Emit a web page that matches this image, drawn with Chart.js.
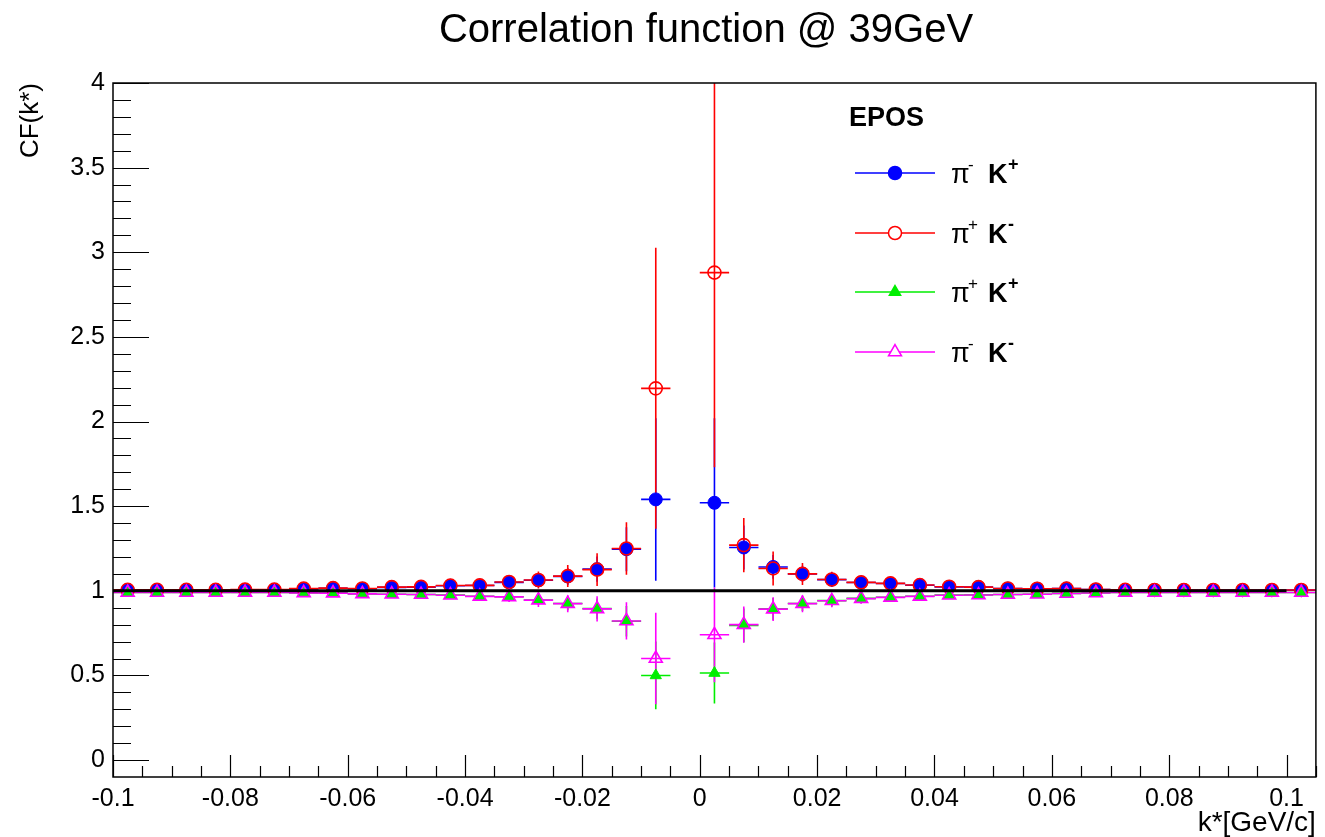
<!DOCTYPE html>
<html>
<head>
<meta charset="utf-8">
<script src="https://cdn.jsdelivr.net/npm/chart.js@4.4.0/dist/chart.umd.min.js"></script>
<style>
  html, body { margin: 0; padding: 0; background: #fff; }
</style>
</head>
<body>
<canvas id="cf-chart" width="1325" height="837"></canvas>
<script>
// bin centres of k* [GeV/c], bin width 0.005 (the -0.0025 bin is empty)
const kStar = [-0.0975, -0.0925, -0.0875, -0.0825, -0.0775, -0.0725, -0.0675, -0.0625, -0.0575, -0.0525,
  -0.0475, -0.0425, -0.0375, -0.0325, -0.0275, -0.0225, -0.0175, -0.0125, -0.0075, -0.0025,
  0.0025, 0.0075, 0.0125, 0.0175, 0.0225, 0.0275, 0.0325, 0.0375, 0.0425, 0.0475,
  0.0525, 0.0575, 0.0625, 0.0675, 0.0725, 0.0775, 0.0825, 0.0875, 0.0925, 0.0975, 0.1025];

const piMinusKPlus = [1.005, 1.005, 1.005, 1.005, 1.006, 1.006, 1.011, 1.015, 1.012, 1.02,
  1.021, 1.03, 1.031, 1.05, 1.062, 1.085, 1.128, 1.246, 1.54, null,
  1.52, 1.256, 1.141, 1.10, 1.066, 1.049, 1.043, 1.033, 1.023, 1.022,
  1.013, 1.012, 1.013, 1.007, 1.005, 1.005, 1.005, 1.004, 1.004, 1.004, 1.004];
const piMinusKPlusErr = [0.004, 0.004, 0.004, 0.004, 0.005, 0.005, 0.006, 0.007, 0.008, 0.01,
  0.012, 0.015, 0.02, 0.028, 0.038, 0.05, 0.075, 0.13, 0.48, null,
  0.5, 0.13, 0.07, 0.048, 0.035, 0.028, 0.022, 0.018, 0.014, 0.012,
  0.01, 0.008, 0.007, 0.006, 0.005, 0.005, 0.004, 0.004, 0.004, 0.004, 0.004];

const piPlusKMinus = [1.006, 1.006, 1.006, 1.006, 1.007, 1.007, 1.013, 1.016, 1.014, 1.022,
  1.023, 1.031, 1.032, 1.052, 1.064, 1.087, 1.125, 1.25, 2.196, null,
  2.88, 1.27, 1.132, 1.10, 1.067, 1.05, 1.044, 1.034, 1.024, 1.022,
  1.014, 1.012, 1.013, 1.008, 1.006, 1.005, 1.005, 1.005, 1.005, 1.005, 1.005];
const piPlusKMinusErr = [0.004, 0.004, 0.004, 0.004, 0.005, 0.005, 0.006, 0.008, 0.009, 0.011,
  0.014, 0.018, 0.03, 0.04, 0.05, 0.065, 0.097, 0.155, 0.83, null,
  1.15, 0.16, 0.1, 0.065, 0.045, 0.035, 0.028, 0.022, 0.016, 0.014,
  0.012, 0.01, 0.008, 0.007, 0.006, 0.005, 0.005, 0.004, 0.004, 0.004, 0.004];

const piPlusKPlus = [0.99, 0.99, 0.99, 0.99, 0.99, 0.99, 0.988, 0.987, 0.982, 0.98,
  0.978, 0.975, 0.968, 0.965, 0.946, 0.925, 0.895, 0.82, 0.50, null,
  0.514, 0.796, 0.893, 0.925, 0.942, 0.955, 0.962, 0.968, 0.975, 0.976,
  0.978, 0.98, 0.985, 0.987, 0.99, 0.99, 0.99, 0.99, 0.99, 0.99, 0.99];
const piPlusKPlusErr = [0.004, 0.004, 0.004, 0.004, 0.004, 0.005, 0.005, 0.006, 0.007, 0.008,
  0.01, 0.013, 0.02, 0.025, 0.03, 0.04, 0.06, 0.09, 0.2, null,
  0.18, 0.1, 0.065, 0.045, 0.035, 0.028, 0.022, 0.018, 0.014, 0.012,
  0.01, 0.008, 0.007, 0.006, 0.005, 0.005, 0.004, 0.004, 0.004, 0.004, 0.004];

const piMinusKMinus = [0.99, 0.99, 0.99, 0.99, 0.99, 0.99, 0.988, 0.986, 0.982, 0.98,
  0.978, 0.974, 0.967, 0.964, 0.945, 0.924, 0.893, 0.822, 0.60, null,
  0.74, 0.80, 0.892, 0.924, 0.941, 0.954, 0.961, 0.967, 0.974, 0.975,
  0.978, 0.98, 0.984, 0.987, 0.99, 0.99, 0.99, 0.99, 0.99, 0.99, 0.99];
const piMinusKMinusErr = [0.004, 0.004, 0.004, 0.004, 0.005, 0.005, 0.006, 0.007, 0.008, 0.009,
  0.011, 0.014, 0.022, 0.03, 0.04, 0.05, 0.075, 0.11, 0.27, null,
  0.28, 0.107, 0.07, 0.05, 0.038, 0.03, 0.024, 0.019, 0.015, 0.013,
  0.011, 0.009, 0.008, 0.006, 0.005, 0.005, 0.004, 0.004, 0.004, 0.004, 0.004];

const xTickValues = [-0.1, -0.08, -0.06, -0.04, -0.02, 0, 0.02, 0.04, 0.06, 0.08, 0.1];
const yTickValues = [0, 0.5, 1, 1.5, 2, 2.5, 3, 3.5, 4];

const FONT = "'Liberation Sans', Arial, Helvetica, sans-serif";
const HALF_BIN = 0.0025;

const seriesList = [
  { sup1: "-", sup2: "+", values: piMinusKPlus, errors: piMinusKPlusErr, color: "#0000ff", style: "circle", radius: 6.5, filled: true },
  { sup1: "+", sup2: "-", values: piPlusKMinus, errors: piPlusKMinusErr, color: "#ff0000", style: "circle", radius: 6.5, filled: false },
  { sup1: "+", sup2: "+", values: piPlusKPlus, errors: piPlusKPlusErr, color: "#00ee00", style: "triangle", radius: 6.5, filled: true },
  { sup1: "-", sup2: "-", values: piMinusKMinus, errors: piMinusKMinusErr, color: "#ff00ff", style: "triangle", radius: 7.5, filled: false },
];

// error bars (x = bin width, y = stat error), drawn under the markers
const errorBars = {
  id: "errorBars",
  beforeDatasetsDraw(chart) {
    const { ctx, chartArea, scales: { x, y } } = chart;
    ctx.save();
    ctx.beginPath();
    ctx.rect(chartArea.left, chartArea.top, chartArea.width, chartArea.height);
    ctx.clip();
    ctx.lineWidth = 1.6;
    seriesList.forEach((s) => {
      ctx.strokeStyle = s.color;
      s.values.forEach((v, i) => {
        if (v === null) return;
        const px = x.getPixelForValue(kStar[i]);
        const py = y.getPixelForValue(v);
        ctx.beginPath();
        ctx.moveTo(x.getPixelForValue(kStar[i] - HALF_BIN), py);
        ctx.lineTo(x.getPixelForValue(kStar[i] + HALF_BIN), py);
        ctx.moveTo(px, y.getPixelForValue(v + s.errors[i]));
        ctx.lineTo(px, y.getPixelForValue(v - s.errors[i]));
        ctx.stroke();
      });
    });
    ctx.restore();
  },
};

// ROOT-like frame with inward ticks, title and legend box
const rootFrame = {
  id: "rootFrame",
  afterDraw(chart) {
    const { ctx, chartArea: a, scales: { x, y } } = chart;
    ctx.save();
    ctx.strokeStyle = "#000";
    ctx.lineWidth = 1.5;
    ctx.strokeRect(a.left, a.top, a.right - a.left, a.bottom - a.top);

    ctx.lineWidth = 1.2;
    ctx.beginPath();
    for (let k = 0; k <= 40; k++) {
      const v = k / 10;
      const py = Math.round(y.getPixelForValue(v)) + 0.5;
      const len = k % 5 === 0 ? 36 : 18;
      ctx.moveTo(a.left, py);
      ctx.lineTo(a.left + len, py);
    }
    for (let k = -20; k <= 21; k++) {
      const v = k * 0.005;
      const px = Math.round(x.getPixelForValue(v)) + 0.5;
      const len = k % 4 === 0 ? 22 : 11;
      ctx.moveTo(px, a.bottom);
      ctx.lineTo(px, a.bottom - len);
    }
    ctx.stroke();

    // title
    ctx.fillStyle = "#000";
    ctx.font = "40px " + FONT;
    ctx.textAlign = "center";
    ctx.textBaseline = "alphabetic";
    ctx.fillText("Correlation function @ 39GeV", 706, 42);

    // legend
    ctx.textAlign = "left";
    ctx.font = "bold 27px " + FONT;
    ctx.fillText("EPOS", 849, 126);
    const rows = [173, 233, 292, 352];
    seriesList.forEach((s, i) => {
      const ly = rows[i];
      ctx.strokeStyle = s.color;
      ctx.lineWidth = 1.6;
      ctx.beginPath();
      ctx.moveTo(855, ly);
      ctx.lineTo(935, ly);
      ctx.stroke();
      ctx.fillStyle = s.filled ? s.color : "#fff";
      ctx.lineWidth = 1.5;
      Chart.helpers.drawPoint(ctx, { pointStyle: s.style, radius: s.radius, rotation: 0, borderWidth: 1.5 }, 895, ly);
      ctx.fillStyle = "#000";
      ctx.font = "27px " + FONT;
      ctx.fillText("\u03c0", 951, ly + 10);
      ctx.font = "17px " + FONT;
      ctx.fillText(s.sup1, 968, ly - 3);
      ctx.font = "bold 27px " + FONT;
      ctx.fillText("K", 988, ly + 10);
      ctx.font = "bold 18px " + FONT;
      ctx.fillText(s.sup2, 1008, ly - 3);
    });
    ctx.restore();
  },
};

const toPoints = (values) => values.map((v, i) => ({ x: kStar[i], y: v }));

new Chart(document.querySelector("#cf-chart").getContext("2d"), {
  type: "scatter",
  data: {
    datasets: [
      ...seriesList.map((s, i) => ({
        label: "pi" + s.sup1 + " K" + s.sup2,
        data: toPoints(s.values),
        pointStyle: s.style,
        pointRadius: s.radius,
        pointHoverRadius: s.radius,
        pointBackgroundColor: s.filled ? s.color : "rgba(0,0,0,0)",
        pointBorderColor: s.color,
        pointBorderWidth: s.filled ? 1 : 1.6,
        showLine: false,
        order: seriesList.length - i,
      })),
      {
        // y = 1 reference line, drawn over the markers
        type: "line",
        label: "unity",
        data: [{ x: -0.1, y: 1 }, { x: 0.1, y: 1 }],
        borderColor: "#000",
        borderWidth: 3,
        pointRadius: 0,
        order: 0,
      },
    ],
  },
  options: {
    responsive: false,
    animation: false,
    devicePixelRatio: 1,
    layout: { padding: { top: 83, right: 2, left: 0, bottom: 0 } },
    plugins: {
      legend: { display: false },
      tooltip: { enabled: false },
      title: { display: false },
    },
    scales: {
      x: {
        type: "linear",
        min: -0.1,
        max: 0.105,
        afterFit: (scale) => { scale.height = 60; },
        afterBuildTicks: (scale) => { scale.ticks = xTickValues.map((v) => ({ value: v })); },
        grid: { display: false, drawTicks: false },
        border: { display: false },
        ticks: {
          padding: 7,
          maxRotation: 0,
          autoSkip: false,
          color: "#000",
          font: { family: FONT, size: 25 },
          callback: (v) => String(v),
        },
        title: {
          display: true,
          text: "k*[GeV/c]",
          align: "end",
          color: "#000",
          font: { family: FONT, size: 28 },
          padding: { top: 0, bottom: -3 },
        },
      },
      y: {
        type: "linear",
        min: -0.1,
        max: 4,
        afterFit: (scale) => { scale.width = 113; },
        afterBuildTicks: (scale) => { scale.ticks = yTickValues.map((v) => ({ value: v })); },
        grid: { display: false, drawTicks: false },
        border: { display: false },
        ticks: {
          padding: 8,
          autoSkip: false,
          color: "#000",
          font: { family: FONT, size: 25 },
          callback: (v) => String(v),
        },
        title: {
          display: true,
          text: "CF(k*)",
          align: "end",
          color: "#000",
          font: { family: FONT, size: 26 },
          padding: { top: 15, bottom: 0 },
        },
      },
    },
  },
  plugins: [errorBars, rootFrame],
});
</script>
</body>
</html>
